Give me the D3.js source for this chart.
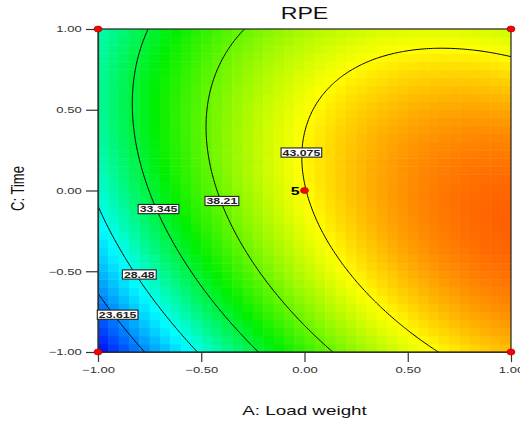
<!DOCTYPE html>
<html>
<head>
<meta charset="utf-8">
<script src="https://cdn.jsdelivr.net/npm/d3@7"></script>
<style>
  body { margin: 0; background: #fff; }
  svg { display: block; font-family: Arial, "Liberation Sans", sans-serif; }
</style>
</head>
<body>
<svg id="chart"></svg>
<script>
// quadratic model for RPE, coded units: b0, A, C, AC, A^2, C^2
const coefs = [43.0, 9.37, 1.865, -3.73, -4.57, -4.63];
const contourLevels = [23.615, 28.48, 33.345, 38.21, 43.075];
// where each contour label sits (A, C)
const labelA = [-0.905, -0.80, -0.707, -0.40, -0.015];
const labelC = [-0.769, -0.52, -0.115, -0.065, 0.235];
const xTicks = [-1, -0.5, 0, 0.5, 1];
const yTicks = [-1, -0.5, 0, 0.5, 1];
// design points
const pointA = [-1, 1, -1, 1, 0];
const pointC = [1, 1, -1, -1, 0];
const pointReps = [1, 1, 1, 1, 5];

const w = 529, h = 427;
const margin = { top: 29, right: 18, bottom: 75, left: 98 };
const sx = 1.45; // text is stretched sideways in the original

const rpe = (a, c) => coefs[0] + coefs[1] * a + coefs[2] * c + coefs[3] * a * c
  + coefs[4] * a * a + coefs[5] * c * c;

const x = d3.scaleLinear().domain([-1, 1]).range([margin.left, w - margin.right]);
const y = d3.scaleLinear().domain([-1, 1]).range([h - margin.bottom, margin.top]);

const color = d3.scaleLinear()
  .domain([18.8, 28, 35, 43, 51])
  .range(['#0000ff', '#00ffff', '#00f000', '#ffff00', '#ff0000'])
  .clamp(true);

const svg = d3.select('#chart').attr('width', w).attr('height', h);

svg.append('clipPath').attr('id', 'plot-clip')
  .append('rect')
  .attr('x', x(-1)).attr('y', y(1))
  .attr('width', x(1) - x(-1)).attr('height', y(-1) - y(1));

// blocky colour grid, 40 x 40 cells
const nCells = 40, cell = 2 / nCells;
const cells = [];
for (let i = 0; i < nCells; i++) {
  for (let j = 0; j < nCells; j++) {
    cells.push({ a0: -1 + i * cell, c0: -1 + j * cell });
  }
}
svg.append('g').attr('clip-path', 'url(#plot-clip)')
  .selectAll('rect').data(cells).join('rect')
  .attr('x', d => x(d.a0))
  .attr('y', d => y(d.c0 + cell))
  .attr('width', x(cell) - x(0) + 0.5)
  .attr('height', y(0) - y(cell) + 0.5)
  .attr('fill', d => color(rpe(d.a0 + cell / 2, d.c0 + cell / 2)));

// contour lines from a fine grid a bit larger than the plot, then clipped
const lo = -1.1, step = 0.01, n = 221;
const values = new Array(n * n);
for (let j = 0; j < n; j++) {
  for (let i = 0; i < n; i++) {
    values[j * n + i] = rpe(lo + i * step, lo + j * step);
  }
}
const contours = d3.contours().size([n, n]).thresholds(contourLevels)(values);
const toScreen = d3.geoTransform({
  point: function (px, py) {
    this.stream.point(x(lo + (px - 0.5) * step), y(lo + (py - 0.5) * step));
  }
});
svg.append('g').attr('clip-path', 'url(#plot-clip)')
  .selectAll('path').data(contours).join('path')
  .attr('d', d3.geoPath(toScreen))
  .attr('fill', 'none')
  .attr('stroke', '#000')
  .attr('stroke-width', 1);

// frame
svg.append('rect')
  .attr('x', x(-1)).attr('y', y(1))
  .attr('width', x(1) - x(-1)).attr('height', y(-1) - y(1))
  .attr('fill', 'none').attr('stroke', '#222').attr('stroke-width', 1.2);

// axes
svg.append('clipPath').attr('id', 'page-clip')
  .append('rect').attr('x', 0).attr('y', 0).attr('width', 520).attr('height', h);

const xAxis = svg.append('g')
  .attr('transform', `translate(0, ${y(-1)})`)
  .attr('clip-path', 'url(#page-clip)')
  .call(d3.axisBottom(x).tickValues(xTicks).tickFormat(d3.format('.2f'))
    .tickSize(10).tickSizeOuter(0).tickPadding(4.6));
const yAxis = svg.append('g')
  .attr('transform', `translate(${x(-1)}, 0)`)
  .call(d3.axisLeft(y).tickValues(yTicks).tickFormat(d3.format('.2f'))
    .tickSize(12).tickSizeOuter(0).tickPadding(4.3));

[xAxis, yAxis].forEach(g => {
  g.select('.domain').attr('stroke', '#333').attr('stroke-width', 1.2);
  g.selectAll('.tick line').attr('stroke', '#333').attr('stroke-width', 1.2);
  g.selectAll('.tick text').attr('fill', '#333')
    .style('font-size', '9px').style('font-family', 'Arial, "Liberation Sans", sans-serif');
});
xAxis.selectAll('.tick text').attr('transform', `scale(${sx},1)`);
yAxis.selectAll('.tick text').attr('x', -(12 + 4.3) / sx).attr('transform', `scale(${sx},1)`);

// contour labels
const labels = svg.append('g').selectAll('g').data(contourLevels).join('g')
  .attr('transform', (d, i) => `translate(${x(labelA[i])}, ${y(labelC[i])})`);
labels.append('rect');
labels.append('text')
  .attr('text-anchor', 'middle')
  .attr('dy', '0.36em')
  .attr('transform', `scale(${sx},1)`)
  .style('font-size', '8.5px')
  .style('font-weight', 'bold')
  .attr('fill', '#222')
  .text(d => d3.format('.5~f')(d));
labels.each(function () {
  const g = d3.select(this);
  const tw = g.select('text').node().getComputedTextLength() * sx + 3;
  g.select('rect')
    .attr('x', -tw / 2).attr('y', -4.6)
    .attr('width', tw).attr('height', 9.2)
    .attr('fill', '#fff').attr('stroke', '#222').attr('stroke-width', 1.1);
});

// design points
const pts = svg.append('g').selectAll('g').data(pointReps).join('g')
  .attr('transform', (d, i) => `translate(${x(pointA[i])}, ${y(pointC[i])})`);
pts.append('ellipse')
  .attr('rx', 4).attr('ry', 3)
  .attr('fill', '#ff0000').attr('stroke', '#990000').attr('stroke-width', 0.6);
pts.filter(d => d > 1).append('text')
  .attr('text-anchor', 'end')
  .attr('x', -5 / sx).attr('y', 4)
  .attr('transform', `scale(${sx},1)`)
  .style('font-size', '11px').style('font-weight', 'bold')
  .attr('fill', '#000')
  .text(d => d);

// titles
svg.append('text')
  .attr('transform', `translate(${x(0)}, 19) scale(${sx},1)`)
  .attr('text-anchor', 'middle')
  .style('font-size', '16px')
  .attr('fill', '#111')
  .text('RPE');

svg.append('text')
  .attr('transform', `translate(${x(0)}, 415) scale(${sx},1)`)
  .attr('text-anchor', 'middle')
  .style('font-size', '13px')
  .attr('fill', '#111')
  .text('A: Load weight');

svg.append('text')
  .attr('transform', `translate(17.5, ${y(0) - 2}) scale(${sx},1) rotate(-90)`)
  .attr('text-anchor', 'middle')
  .attr('dy', '0.35em')
  .style('font-size', '13px')
  .attr('fill', '#111')
  .text('C: Time');
</script>
</body>
</html>
